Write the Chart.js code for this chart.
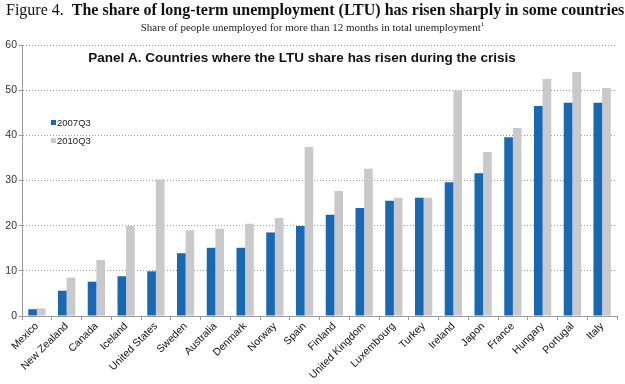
<!DOCTYPE html>
<html>
<head>
<meta charset="utf-8">
<script src="https://cdn.jsdelivr.net/npm/chart.js@4.4.0/dist/chart.umd.min.js"></script>
<style>
  body { margin: 0; background: #fff; }
  .wrap { position: relative; width: 625px; height: 384px; }
  .head { position: absolute; left: 6px; top: 1px; font-family: "Liberation Serif", serif; font-size: 16px; color: #111; white-space: nowrap; }
  .head b { font-weight: bold; }
  .sub { position: absolute; left: 0; width: 625px; top: 20px; text-align: center; font-family: "Liberation Serif", serif; font-size: 11px; color: #222; }
  .sub sup { font-size: 7px; }
  canvas { position: absolute; left: 0; top: 0; }
</style>
</head>
<body>
<div class="wrap">
  <canvas id="chart" width="625" height="384"></canvas>
  <div class="head">Figure 4.&nbsp; <b>The share of long-term unemployment (LTU) has risen sharply in some countries</b></div>
  <div class="sub">Share of people unemployed for more than 12 months in total unemployment<sup>1</sup></div>
</div>
<script>
const countries = ['Mexico', 'New Zealand', 'Canada', 'Iceland', 'United States', 'Sweden', 'Australia',
  'Denmark', 'Norway', 'Spain', 'Finland', 'United Kingdom', 'Luxembourg', 'Turkey', 'Ireland',
  'Japon', 'France', 'Hungary', 'Portugal', 'Italy'];
const q2007 = [1.5, 5.6, 7.6, 8.8, 9.9, 13.9, 15.1, 15.1, 18.5, 19.9, 22.4, 23.9, 25.5, 26.2, 29.6, 31.6, 39.6, 46.5, 47.2, 47.2];
const q2010 = [1.7, 8.5, 12.4, 19.9, 30.2, 19.0, 19.3, 20.4, 21.7, 37.4, 27.7, 32.6, 26.2, 26.2, 49.9, 36.3, 41.6, 52.5, 54.0, 50.5];
const seriesNames = ['2007Q3', '2010Q3'];
const panelTitle = 'Panel A. Countries where the LTU share has risen during the crisis';

const blue = '#1769b4';
const grey = '#c9c9cc';

// panel title and legend sit inside the plot area
const panelPlugin = {
  id: 'panel',
  afterDraw(chart) {
    const ctx = chart.ctx;
    const area = chart.chartArea;
    ctx.save();
    ctx.fillStyle = '#111';
    ctx.font = 'bold 13.5px "Liberation Sans", Arial, sans-serif';
    ctx.textAlign = 'center';
    ctx.textBaseline = 'middle';
    ctx.fillText(panelTitle, 302, area.top + 13);

    ctx.font = '9.5px "Liberation Sans", Arial, sans-serif';
    ctx.textAlign = 'left';
    const colors = [blue, grey];
    seriesNames.forEach((name, i) => {
      const y = 123 + i * 18;
      ctx.fillStyle = colors[i];
      ctx.fillRect(51, y - 3, 5, 5);
      ctx.fillStyle = '#222';
      ctx.fillText(name, 57, y);
    });
    ctx.restore();
  }
};

new Chart(document.getElementById('chart'), {
  type: 'bar',
  data: {
    labels: countries,
    datasets: [
      { label: seriesNames[0], data: q2007, backgroundColor: blue },
      { label: seriesNames[1], data: q2010, backgroundColor: grey }
    ]
  },
  options: {
    responsive: false,
    animation: false,
    layout: { padding: { top: 45, right: 8, left: 0, bottom: 0 } },
    datasets: { bar: { barPercentage: 1, categoryPercentage: 0.58 } },
    plugins: {
      legend: { display: false },
      tooltip: { enabled: false }
    },
    scales: {
      x: {
        afterFit(scale) { scale.height = 68; },
        grid: { drawOnChartArea: false, drawTicks: true, tickLength: 4, color: '#999', offset: true },
        border: { color: '#999' },
        ticks: {
          minRotation: 45, maxRotation: 45, autoSkip: false, padding: 0,
          color: '#111', font: { family: '"Liberation Sans", Arial, sans-serif', size: 10.5 }
        }
      },
      y: {
        min: 0, max: 60,
        afterFit(scale) { scale.width = 22; },
        grid: { color: '#999', lineWidth: 1, tickLength: 3 },
        border: { color: '#999', dash: [1, 2] },
        ticks: {
          stepSize: 10, padding: 2, color: '#333',
          font: { family: '"Liberation Sans", Arial, sans-serif', size: 10.5 }
        }
      }
    }
  },
  plugins: [panelPlugin]
});
</script>
</body>
</html>
